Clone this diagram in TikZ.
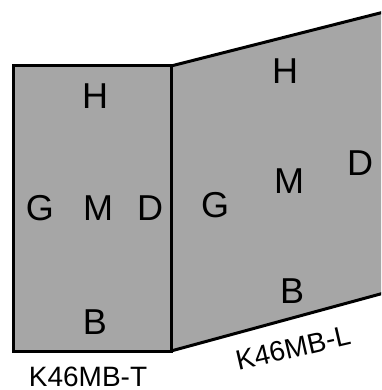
\documentclass[tikz,border=0pt]{standalone}
\usepackage{fontspec}
\setmainfont{Liberation Sans}
\begin{document}
\begin{tikzpicture}[x=1pt,y=-1pt,
  face/.style={fill=panelgray,draw=black,line width=3pt,line join=miter},
  letter/.style={font=\fontsize{36}{40}\selectfont,inner sep=0pt,anchor=center},
  caption/.style={font=\fontsize{28}{30}\selectfont,inner sep=0pt,anchor=center}]
\definecolor{panelgray}{HTML}{A6A6A6}
\useasboundingbox (0,0) rectangle (381,390);
\clip (0,0) rectangle (381,390);
% right (L) face
\fill[panelgray] (171,66) -- (384,12) -- (384,293) -- (171,351) -- cycle;
\draw[line width=3pt,line join=miter] (384,12) -- (171,66) -- (171,351) -- (384,293);
% left (T) face
\draw[face] (13,66) rectangle (171,351);
% left face letters
\node[letter] (tH) at (95,96) {H};
\node[letter] (tG) at (40,208) {G};
\node[letter] (tM) at (98,208) {M};
\node[letter] (tD) at (150,208) {D};
\node[letter] (tB) at (95,322) {B};
\node[caption] (tcap) at (88,377) {K46MB-T};
% right face letters
\node[letter] (lH) at (285,71) {H};
\node[letter] (lG) at (215,205) {G};
\node[letter] (lM) at (289,181) {M};
\node[letter] (lD) at (360,163) {D};
\node[letter] (lB) at (292,291) {B};
\node[caption,rotate=13] (lcap) at (293,348) {K46MB-L};
\end{tikzpicture}
\end{document}
